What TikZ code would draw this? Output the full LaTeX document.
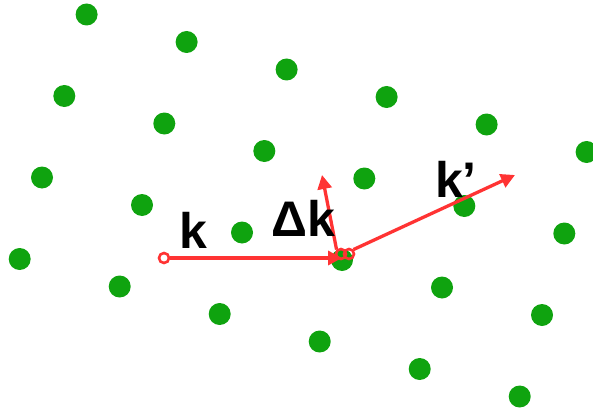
\documentclass[tikz,border=0pt]{standalone}
\usepackage{fontspec}
\setmainfont{Liberation Sans}
\usetikzlibrary{arrows.meta}
\definecolor{dotgreen}{HTML}{0FA30F}
\definecolor{vecred}{HTML}{FF3333}
\tikzset{
  latdot/.style={circle,fill=dotgreen,inner sep=0pt,minimum size=22pt},
  opencirc/.style={circle,draw=vecred,line width=2.6pt,inner sep=0pt,minimum size=10pt},
  vec/.style={draw=vecred,line width=3.3pt,-{Triangle[length=14pt,width=14pt]}},
  lbl/.style={font=\fontsize{50}{50}\selectfont\bfseries,anchor=base,inner sep=0pt}
}
\begin{document}
\begin{tikzpicture}[x=1pt,y=-1pt]
\useasboundingbox (0,0) rectangle (593,417);
\foreach \i in {-3,...,2}{
  \foreach \j in {-1,...,2}{
    \node[latdot] (d\i\j) at ({342+100*\i+22.3*\j},{260+27.5*\i-81.5*\j}) {};
  }
}
\node[opencirc] (ka) at (164,258) {};
\coordinate (kb) at (342,258);
\node[opencirc] (da) at (341,254) {};
\coordinate (db) at (322,175);
\node[opencirc] (kpa) at (349,254) {};
\coordinate (kpb) at (515,175);
\draw[vec] (ka) -- (kb);
\draw[vec] (da.north west) -- (db);
\draw[vec] (kpa.north east) -- (kpb);
\node[lbl] (lk) at (193,248) {k};
\node[lbl] (ldk) at (303,236) {Δk};
\node[lbl] (lkp) at (456,197) {k’};
\end{tikzpicture}
\end{document}
